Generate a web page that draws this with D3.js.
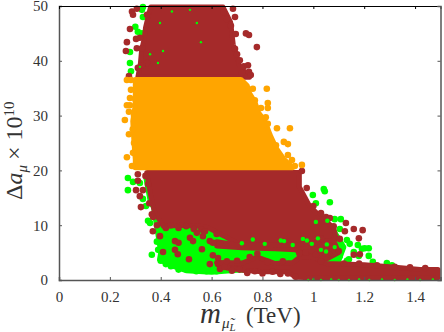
<!DOCTYPE html>
<html>
<head>
<meta charset="utf-8">
<script src="https://d3js.org/d3.v7.min.js"></script>
<style>
  html, body { margin: 0; padding: 0; background: #fff; }
  svg { display: block; }
  svg text { font-family: "Liberation Serif", "Times New Roman", serif; fill: #333; }
</style>
</head>
<body>
<div id="my_dataviz"></div>
<script>
// tick labels
var xTicks = [0, 0.2, 0.4, 0.6, 0.8, 1, 1.2, 1.4];
var yTicks = [0, 10, 20, 30, 40, 50];

var greenRegion = [[.39,8],[.4,5],[.395,3.7],[.45,2.5],[.5,1.7],[.6,1.4],[.7,1.8],[.9,2],[1.0,2.5],[1.1,3.5],[1.12,6],[1.08,9],[.9,9],[.6,10.5],[.42,10.5],[.36,14],[.34,19],[.35,19.5]];
var brownTop = [[.36,49.8],[.645,49.8],[.675,47],[.685,43],[.71,39],[.75,37],[.31,37],[.32,39.5],[.325,42],[.335,44],[.34,46],[.35,48]];
var brownMid = [[.345,19.6],[.945,19.6],[.945,17],[.985,13.5],[1.03,11.5],[1.08,9.5],[1.09,7.5],[.95,6],[.82,6],[.72,6.2],[.65,8],[.58,9.7],[.49,10],[.41,9.8],[.375,12.5],[.36,15.5]];
var brownBand = [[.62,7],[.70,6.4],[.95,6.5],[1.08,7.2],[1.1,5],[1.05,3.8],[.98,4.5],[.93,5.5],[.85,5.7],[.72,5.9],[.62,6.2]];
var brownLow = [[.62,3.2],[.72,3.1],[.78,4.2],[.85,3.0],[.92,3.2],[.95,4.3],[1.0,4.2],[1.05,3.0],[1.2,2.8],[1.3,2.4],[1.42,1.9],[1.49,1.9],[1.49,.4],[1.3,.4],[1.0,.4],[.93,.5],[.9,1.5],[.8,1.5],[.72,1.8],[.66,2.2]];
var orangeBand = [[.30,36.6],[.715,36.6],[.74,35.5],[.75,34],[.77,32.5],[.785,30.5],[.81,29],[.83,26.5],[.855,24],[.885,22],[.92,20.5],[.3,20.5],[.3,22],[.295,25],[.29,29],[.30,32],[.30,35]];

// single points standing clear of the cloud
var greenDots = [[.33,49.8],[.326,49.3],[.33,48],[.3,46.2],[.31,45.3],[.326,45],[.279,41.6],[.279,39.6],[.283,38.1],[.36,46.7],[.483,46],
  [.271,18.6],[.271,16.4],[.291,17.9],[.318,17.7],[.33,14.8],[.342,13.5],[.35,10.8],[.358,10.4],[.365,4.6],
  [.385,7],[.39,5.5],[.4,3.5],[.42,2.9],[.44,2.5],[.47,1.9],[.5,1.9],[.54,1.6],[.58,1.6],[.62,1.6],[.66,1.9],
  [1.041,16.6],[1.045,16.2],[1.065,14.2],[1.01,14],[.998,15.5],[1.084,11.1],[1.108,11.1],[1.104,9.3],[1.132,7.3],[1.143,6.6],[1.175,6.4],[1.202,5.8],[1.218,5.8],[1.191,5.7],[1.159,5.1],[1.14,3.8],[1.132,3.5],[1.179,4.4],[1.218,4.4],[1.234,3.3],[1.289,3.1],[1.309,2.7],[1.104,4.4]];
var brownDots = [[.287,49],[.291,48.4],[.279,45.8],[.267,43.4],[.263,41.8],[.306,42.3],[.303,44],[.275,37.2],[.306,49.5],[.346,39.6],[.326,39.2],[.31,38.7],[.318,44.2],[.326,42.3],[.346,48.4],
  [.684,49.5],[.648,48.9],[.692,48],[.66,47.6],[.676,46.4],[.695,44.9],[.735,45],[.747,44.7],[.778,42.5],[.692,42.2],[.70,41.2],[.711,40.1],[.727,39],[.743,39.2],[.747,38],[.754,37.4],[.719,37.8],
  [.303,16.4],[.33,16.4],[.318,15.3],[.322,13.3],[.31,19.3],[.31,18.1],[.369,8.9],[.365,12],[.397,8],[.409,5.1],[.34,19],[.35,17.5],[.355,14],[.37,11.5],[.385,10],
  [.42,9.5],[.44,10],[.47,9.5],[.5,9.8],[.53,9.3],[.56,9.2],[.62,8.4],
  [.456,7.1],[.47,6.8],[.456,5.5],[.467,4.7],[.511,3.8],[.562,5.6],[.605,4.5],[.593,2.9],[.625,4],[.625,2.9],[.633,2],[.515,7.7],[.527,7.1],[.566,8],[.593,7.1],[.605,6.8],[.633,6.6],[.542,8.6],[.574,8.9],
  [.65,2.4],[.68,1.7],[.71,1.9],[.74,1.3],[.77,1.6],[.8,1.2],[.84,1.5],[.87,1.1],[.9,1.2],[.93,.6],
  [.66,3.4],[.7,3.5],[.75,4.2],[.78,4.8],[.82,3.3],[.88,3.4],[.945,4.9],[.97,5],[1.01,4.6],[1.03,3.4],
  [.974,16.8],[.955,19.9],[1.0,13.5],[1.03,12.2],[1.05,11.5],[1.08,9.8],
  [1.128,10.4],[1.065,11.3],[1.124,8.9],[1.159,9.3],[1.194,9.1],[1.179,7.6],[1.159,4.6],[1.183,4.7],[1.065,6.2],[1.104,7.5],[1.061,4.7],[1.1,5.3],[1.033,7.5],
  [1.12,3],[1.18,3],[1.25,2.7],[1.32,2.4],[1.38,2.3],[1.44,2.2]];
var orangeDots = [[.267,36.5],[.283,36.5],[.283,34.7],[.279,33.2],[.279,31.9],[.267,31.9],[.275,30.7],[.259,29.2],[.275,26.6],[.267,22.4],[.291,23.2],[.287,20.8],
  [.295,30],[.29,27.5],[.295,25],[.3,33],
  [.817,34.9],[.762,34.9],[.77,32.8],[.821,32.3],[.821,31.4],[.794,31.4],[.813,29.7],[.821,28.5],[.857,27.7],[.908,27.7],[.884,25.2],[.9,24.8],[.853,24.6],[.9,22.8],[.916,21.9],[.955,21],[.927,20.8]];
// green showing through the brown
var greenSpecks = [[.397,46.9],[.444,49],[.515,49.3],[.542,46.9],[.409,41.8],[.358,41.2],[.318,38.9],[.389,39.6],[.558,43.4],
  [.98,0],[1.0,.1],[1.03,0],[1.07,.1],[1.1,0],[1.14,0],[1.18,.1],[1.22,0],[1.27,.1],[1.32,0],[1.37,.1],[1.42,0],[1.47,.1]];
var greenPatches = [[.719,6.7],[.762,7.4],[.809,6.6],[.872,7.2],[.885,7.1],[.919,6.4],[.959,7.5],[.975,7.2],[.994,6.6],[1.018,7.6],[1.053,6.5],[1.084,6],
  [1.055,10.8],[1.01,10.6],[1.03,5.5],[1.05,5.2]];

var brown = "#a52a2a", orange = "#ffa500", green = "#00ff00";
var margin = { top: 6, right: 4, bottom: 52, left: 59 },
    width = 444 - margin.left - margin.right,
    height = 332 - margin.top - margin.bottom;

var svg = d3.select("#my_dataviz").append("svg")
    .attr("width", 444)
    .attr("height", 332);
var g = svg.append("g")
    .attr("transform", "translate(" + margin.left + "," + margin.top + ")");

var x = d3.scaleLinear().domain([0, 1.5]).range([0, 381.5]);
var y = d3.scaleLinear().domain([0, 50]).range([height, 0]);
var line = d3.line().x(function (d) { return x(d[0]); }).y(function (d) { return y(d[1]); }).curve(d3.curveLinearClosed);

function region(pts, color) {
    g.append("path").attr("d", line(pts))
        .attr("fill", color).attr("stroke", color)
        .attr("stroke-width", 5).attr("stroke-linejoin", "round");
}
function dots(pts, color, r) {
    g.append("g").selectAll("circle").data(pts).enter().append("circle")
        .attr("cx", function (d) { return x(d[0]); })
        .attr("cy", function (d) { return y(d[1]); })
        .attr("r", r)
        .attr("fill", color);
}

region(greenRegion, green);
dots(greenDots, green, 3.3);
region(brownTop, brown);
region(brownMid, brown);
region(brownBand, brown);
region(brownLow, brown);
dots(brownDots, brown, 3.3);
dots(greenSpecks, green, 1.2);
dots(greenPatches, green, 2.2);
region(orangeBand, orange);
dots(orangeDots, orange, 3.3);

// axes, gnuplot style: ticks point inward on all four sides
function style(a, color, w) {
    a.attr("font-family", null).attr("font-size", null);
    a.select(".domain").attr("stroke", color).attr("stroke-width", w);
    a.selectAll(".tick line").attr("stroke", color);
    a.selectAll(".tick text").style("font-size", "15px").attr("fill", "#333");
}
var fmt = function (d) { return String(d); };
g.append("g").attr("transform", "translate(0," + height + ")")
    .call(d3.axisBottom(x).tickValues(xTicks).tickFormat(fmt).tickSize(-3).tickPadding(11))
    .call(style, "#555", 1.5);
g.append("g")
    .call(d3.axisLeft(y).tickValues(yTicks).tickFormat(fmt).tickSize(-3).tickPadding(11))
    .call(style, "#555", 1.5);
g.append("g")
    .call(d3.axisTop(x).tickValues(xTicks).tickFormat("").tickSize(-3))
    .call(style, "#000", 1);
g.append("g").attr("transform", "translate(381.5,0)")
    .call(d3.axisRight(y).tickValues(yTicks).tickFormat("").tickSize(-3))
    .call(style, "#555", 1.5);

// axis titles
var xl = svg.append("text").attr("x", 200).attr("y", 323).style("font-size", "29px");
xl.append("tspan").style("font-style", "italic").text("m");
xl.append("tspan").attr("x", 222).attr("dy", 5).style("font-size", "15px").style("font-style", "italic").text("μ̃");
xl.append("tspan").attr("dy", 3).style("font-size", "11px").style("font-style", "italic").text("L");
xl.append("tspan").attr("x", 246).attr("dy", -8).style("font-size", "23px").text("(TeV)");

var yl = svg.append("text").attr("transform", "translate(22,200) rotate(-90)").style("font-size", "24px");
yl.append("tspan").text("Δ");
yl.append("tspan").style("font-style", "italic").text("a");
yl.append("tspan").attr("dy", 5).style("font-size", "15px").style("font-style", "italic").text("μ");
yl.append("tspan").attr("dy", -5).attr("dx", 5).text("× 10");
yl.append("tspan").attr("dy", -8).style("font-size", "15px").text("10");
</script>
</body>
</html>
